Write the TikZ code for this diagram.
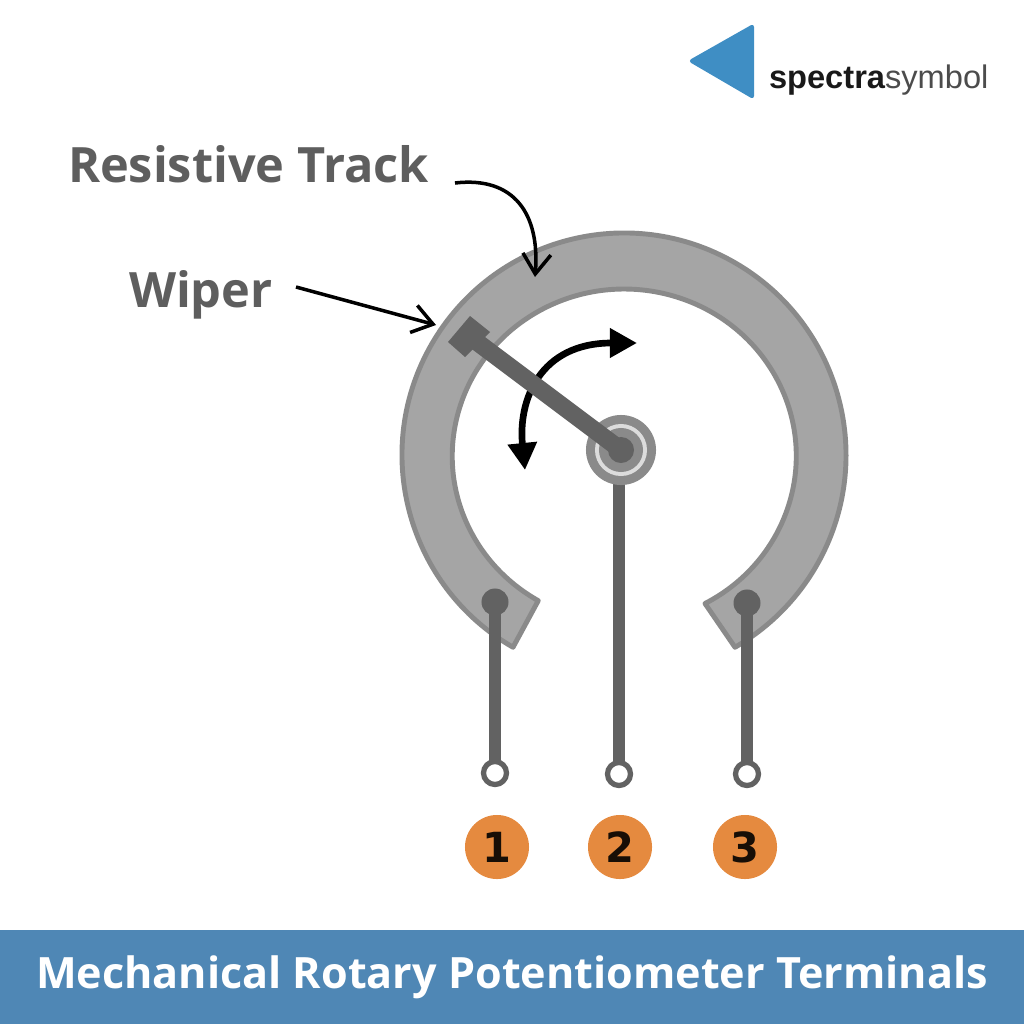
\documentclass[tikz,border=0pt]{standalone}
\usepackage{fontspec}
\setmainfont{Open Sans}
\newfontfamily\logofont{Liberation Sans}
\newfontfamily\digitfont{DejaVu Sans}
\usetikzlibrary{arrows.meta, calc, positioning}
\definecolor{trackfill}{HTML}{A5A5A5}
\definecolor{trackline}{HTML}{8A8A8A}
\definecolor{wipergray}{HTML}{626262}
\definecolor{labelgray}{HTML}{5E5E5E}
\definecolor{badge}{HTML}{E58A3F}
\definecolor{bannerblue}{HTML}{4F87B5}
\definecolor{logoblue}{HTML}{3F8EC4}
\begin{document}
\begin{tikzpicture}[x=0.01cm,y=-0.01cm,semithick,
        every node/.style={inner sep=0pt,outer sep=0pt}]
        \tikzstyle{callout}=[text=labelgray,font=\fontsize{13.85}{16}\selectfont\bfseries,anchor=base west]
        \tikzstyle{pointer}=[black,line width=1pt,-{Straight Barb[length=2mm,width=2.8mm,line width=1pt]}]
        \tikzstyle{swing}=[black,line width=1.9pt,{Triangle[length=2.7mm,width=2.8mm]}-{Triangle[length=2.7mm,width=2.8mm]}]
        \tikzstyle{stem}=[wipergray,line width=3.6pt]
        \tikzstyle{head}=[circle,fill=wipergray,minimum size=0.27cm]
        \tikzstyle{terminal}=[circle,draw=wipergray,line width=1.5pt,fill=white,minimum size=0.23cm]
        \tikzstyle{number}=[circle,fill=badge,minimum size=0.64cm,text=black!90!badge,font=\fontsize{11.8}{14}\digitfont\bfseries]
        \useasboundingbox (0,0) rectangle (1024,1024);

        % track
        \coordinate (ringc) at (624,455);
        \coordinate (ringe) at (705,603.5);
        \draw[fill=trackfill,draw=trackline,line width=1.4pt,line join=round]
          ($(ringc)+(120:222)$) arc[start angle=120,end angle=420,radius=222]
          -- (ringe) arc[start angle=62,end angle=-240,x radius=172,y radius=167] -- cycle;

        % terminals
        \node[head](H1) at (495,602){};
        \node[head](H3) at (747,603){};
        \node[terminal](T1) at (495,773){};
        \node[terminal](T2) at (619,774){};
        \node[terminal](T3) at (747,774){};
        \coordinate (P2) at (619,450);
        \draw[stem] (H1.center) -- (T1);
        \draw[stem] (P2) -- (T2);
        \draw[stem] (H3.center) -- (T3);
        \node[number](N1) at (497,847){1};
        \node[number](N2) at (620,847){2};
        \node[number](N3) at (745,847){3};

        % swing arrow, goes under the wiper
        \coordinate (S1) at (525,470);
        \coordinate (S2) at (637,343);
        \draw[swing] (S1) .. controls (518,400) and (540,343) .. (S2);

        % pivot
        \node[circle,fill=trackline,minimum size=0.70cm](PV) at (621,450){};
        \node[circle,fill=white!70!trackline,minimum size=0.52cm](PV1) at (621,450){};
        \node[circle,fill=trackline,minimum size=0.44cm](PV2) at (621,450){};
        \node[circle,fill=wipergray,minimum size=0.26cm](PV3) at (621,450){};

        % wiper
        \coordinate (W) at (469,336);
        \draw[wipergray,line width=5pt] (W) -- (PV3.center);
        \fill[wipergray] (470,316) -- (490,332) -- (465,357) -- (448,342) -- cycle;

        % labels
        \node[callout](RT) at (68,182){Resistive Track};
        \node[callout](WP) at (129,307){Wiper};
        \coordinate (RTa) at (455,183);
        \coordinate (RTb) at (535,277);
        \coordinate (WPa) at (296,287);
        \coordinate (WPb) at (436,325);
        \draw[pointer] (RTa) .. controls (515,176) and (540,215) .. (RTb);
        \draw[pointer] (WPa) -- (WPb);

        % logo
        \fill[logoblue,draw=logoblue,line width=1.2pt,line join=round] (752,27) -- (692,61) -- (752,96) -- cycle;
        \node[anchor=base west,text=black!90,font=\fontsize{9.28}{11}\logofont](LG) at (769,88){\bfseries spectra\mdseries\color{black!70}symbol};

        % banner
        \node[fill=bannerblue,minimum width=10.24cm,minimum height=0.94cm,text=white,
          font=\fontsize{12.27}{15}\selectfont\bfseries](BN) at (512,977){Mechanical Rotary Potentiometer Terminals};
      \end{tikzpicture}
\end{document}
